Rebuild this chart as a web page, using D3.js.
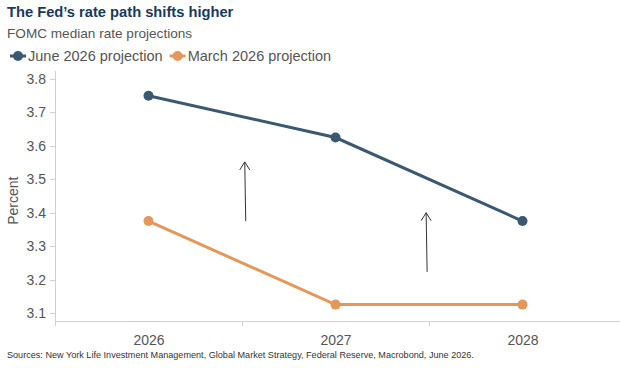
<!DOCTYPE html>
<head>
  <title>Fed rate path</title>
  <meta charset="utf-8">
  <style>
    body {margin: 0; background: #fff; font-family: "Liberation Sans", Arial, sans-serif;}
    .axis path, .axis line {stroke: #d0d0d0; shape-rendering: crispEdges;}
    .axis text {fill: #555; font-size: 14px; font-family: "Liberation Sans", Arial, sans-serif;}
  </style>
</head>
<body>
  <svg width="620" height="368"></svg>
  <script src="https://cdn.jsdelivr.net/npm/d3@7"></script>
  <script>
    // chart data
    var years = [2026, 2027, 2028];
    var june2026 = [3.75, 3.625, 3.375];
    var march2026 = [3.375, 3.125, 3.125];
    var yTicks = [3.1, 3.2, 3.3, 3.4, 3.5, 3.6, 3.7, 3.8];
    // annotation arrows: x in year units, from / to in percent
    var arrowX = [2026.52, 2027.49];
    var arrowFrom = [3.375, 3.223];
    var arrowTo = [3.552, 3.40];

    var seriesList = [
      {name: "June 2026 projection", values: june2026, color: "#3a5870"},
      {name: "March 2026 projection", values: march2026, color: "#e3975b"}
    ];

    var svg = d3.select("svg"),
        margin = {top: 71, bottom: 47, left: 55, right: 4},
        width = +svg.attr("width") - margin.left - margin.right,
        height = +svg.attr("height") - margin.top - margin.bottom;

    // title + subtitle
    svg.append("text").attr("x", 7).attr("y", 17)
        .attr("font-size", 14.7).attr("font-weight", "bold").attr("fill", "#173a5e")
        .text("The Fed\u2019s rate path shifts higher");
    svg.append("text").attr("x", 7).attr("y", 38)
        .attr("font-size", 13.6).attr("fill", "#555")
        .text("FOMC median rate projections");

    var graph = svg.append("g").attr("transform", "translate(" + margin.left + "," + margin.top + ")");

    var x = d3.scaleLinear().domain([2025.5, 2028.5]).range([0, width]),
        y = d3.scaleLinear().domain([3.076, 3.824]).range([height, 0]);

    // x axis: ticks between categories, labels at centers
    var xAxis = graph.append("g")
        .attr("class", "axis")
        .attr("transform", "translate(0," + height + ")")
        .call(d3.axisBottom(x).tickValues([2025.5, 2026.5, 2027.5]).tickSize(5).tickFormat(""));
    xAxis.selectAll("line").attr("stroke", "#555");
    xAxis.select(".domain").attr("d", "M0,0.5H" + (width + 5));
    graph.append("g")
        .attr("class", "axis")
        .attr("transform", "translate(0," + height + ")")
        .call(d3.axisBottom(x).tickValues(years).tickSize(0).tickPadding(14).tickFormat(d3.format("d")))
        .select(".domain").remove();

    // y axis
    var yAxis = graph.append("g")
        .attr("class", "axis")
        .call(d3.axisLeft(y).tickValues(yTicks).tickSize(5).tickPadding(4).tickFormat(d3.format(".1f")));
    yAxis.select(".domain").attr("d", "M0.5,0V" + height);

    svg.append("text")
        .attr("transform", "translate(18," + (margin.top + y(3.4) - 12) + ") rotate(-90)")
        .attr("text-anchor", "middle")
        .attr("font-size", 14).attr("fill", "#555")
        .text("Percent");

    var line = d3.line()
        .x(function(d, i) { return x(years[i]); })
        .y(function(d) { return y(d); });

    seriesList.forEach(function(s) {
      graph.append("path")
          .attr("d", line(s.values))
          .attr("fill", "none")
          .attr("stroke", s.color)
          .attr("stroke-width", 3);
      graph.selectAll(null)
          .data(s.values)
          .enter().append("circle")
            .attr("cx", function(d, i) { return x(years[i]); })
            .attr("cy", function(d) { return y(d); })
            .attr("r", 5)
            .attr("fill", s.color);
    });

    // arrows
    arrowX.forEach(function(ax, i) {
      var px = x(ax), y0 = y(arrowFrom[i]), y1 = y(arrowTo[i]);
      graph.append("line")
          .attr("x1", px).attr("x2", px - 1)
          .attr("y1", y0).attr("y2", y1)
          .attr("stroke", "#333").attr("stroke-width", 1);
      graph.append("path")
          .attr("d", "M" + (px - 6) + "," + (y1 + 8) + "L" + (px - 1) + "," + y1 + "L" + (px + 4) + "," + (y1 + 8))
          .attr("fill", "none").attr("stroke", "#333").attr("stroke-width", 1);
    });

    // legend
    var legend = svg.append("g").attr("transform", "translate(10,56)");
    var lx = 0;
    seriesList.forEach(function(s) {
      var g = legend.append("g").attr("transform", "translate(" + lx + ",0)");
      g.append("line").attr("x1", 0).attr("x2", 16).attr("y1", 0).attr("y2", 0)
          .attr("stroke", s.color).attr("stroke-width", 3);
      g.append("circle").attr("cx", 8).attr("cy", 0).attr("r", 5).attr("fill", s.color);
      var t = g.append("text").attr("x", 18).attr("y", 5)
          .attr("font-size", 14.5).attr("fill", "#555").text(s.name);
      lx += 18 + t.node().getComputedTextLength() + 7;
    });

    svg.append("text").attr("x", 7).attr("y", 358)
        .attr("font-size", 9.1).attr("fill", "#333")
        .text("Sources: New York Life Investment Management, Global Market Strategy, Federal Reserve, Macrobond, June 2026.");
  </script>
</body>
